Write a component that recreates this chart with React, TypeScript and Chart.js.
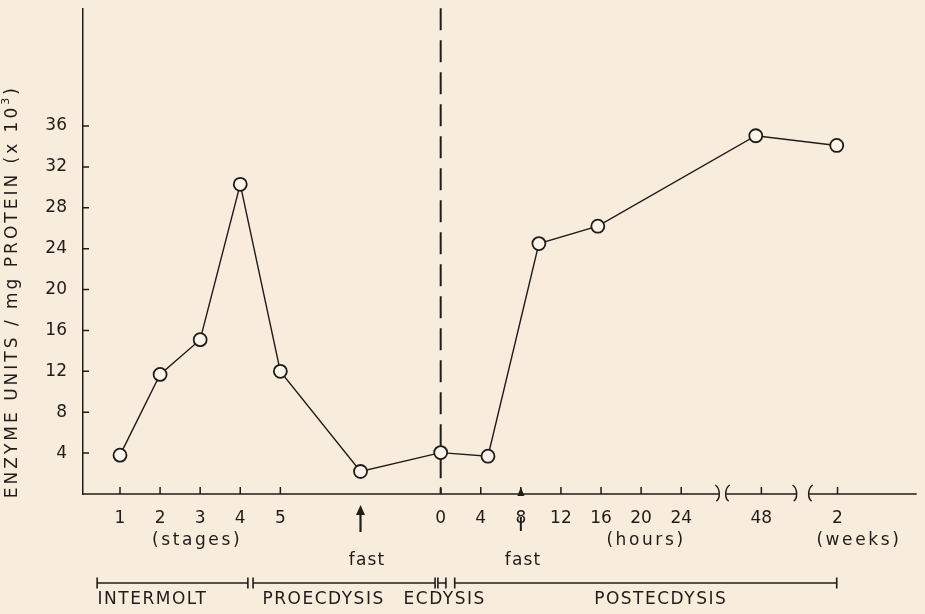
import React, { useEffect, useRef } from "react";
import { Chart, registerables } from "chart.js";

Chart.register(...registerables);

// Unified x position: stages 1–5 at 1..5, hours after ecdysis at 9 + h/4, 48 h and 2 weeks after axis breaks
const samplePositions = [1, 2, 3, 4, 5, 7, 9, 10.18, 11.45, 12.92, 16.86, 18.88];
const enzymeUnits = [3.8, 11.7, 15.1, 30.3, 12.0, 2.2, 4.05, 3.7, 24.5, 26.2, 35.05, 34.1];

const xTickValues = [1, 2, 3, 4, 5, 9, 10, 11, 12, 13, 14, 15, 17, 18.9];
const xTickLabels = ["1", "2", "3", "4", "5", "0", "4", "8", "12", "16", "20", "24", "48", "2"];
const yTickValues = [4, 8, 12, 16, 20, 24, 28, 32, 36];

const unitLabels = ["(stages)", "(hours)", "(weeks)"];
const unitLabelPositions = [2.89, 14.09, 19.4];
const fastLabels = ["fast", "fast"];
const fastLabelPositions = [7.15, 11.04];
const fastArrowPositions = [7, 11];

const phaseNames = ["INTERMOLT", "PROECDYSIS", "ECDYSIS", "POSTECDYSIS"];
const phaseStarts = [0.43, 4.32, 8.93, 9.35];
const phaseEnds = [4.19, 8.86, 9.13, 18.88];
const phaseLabelCenters = [1.79, 6.06, 9.08, 14.47];

const ecdysisLine = 9;
const breakStarts = [15.9, 17.83];
const breakEnds = [16.16, 18.23];

const yTitle = "ENZYME UNITS / mg PROTEIN (x 10";
const yTitleSup = "3";
const yTitleEnd = ")";

const INK = "#1f1c1a";
const BG = "#f8ecdc";
const FONT = "'DejaVu Sans', sans-serif";

function spacedText(ctx: CanvasRenderingContext2D, text: string, x: number, y: number, spacing: number) {
  (ctx as any).letterSpacing = spacing + "px";
  const w = ctx.measureText(text).width;
  ctx.textAlign = "left";
  ctx.fillText(text, x - (w - spacing) / 2, y);
  (ctx as any).letterSpacing = "0px";
}

const decorPlugin = {
  id: "decor",
  beforeDatasetsDraw(chart: any) {
    const { ctx, chartArea, scales } = chart;
    const x = scales.x;
    const y = scales.y;
    const ay = y.getPixelForValue(0);
    ctx.save();
    ctx.strokeStyle = INK;
    ctx.lineWidth = 2;
    ctx.setLineDash([22, 10]);
    const lx = x.getPixelForValue(ecdysisLine);
    ctx.beginPath();
    ctx.moveTo(lx, chartArea.top);
    ctx.lineTo(lx, ay);
    ctx.stroke();
    ctx.restore();
  },
  afterDraw(chart: any) {
    const { ctx, chartArea, scales } = chart;
    const x = scales.x;
    const y = scales.y;
    const ay = y.getPixelForValue(0);
    const left = chartArea.left;
    ctx.save();
    ctx.strokeStyle = INK;
    ctx.fillStyle = INK;
    ctx.lineWidth = 1.5;
    ctx.setLineDash([]);

    // x axis with breaks
    ctx.beginPath();
    let start = left;
    for (let i = 0; i < breakStarts.length; i++) {
      const xa = x.getPixelForValue(breakStarts[i]);
      const xb = x.getPixelForValue(breakEnds[i]);
      ctx.moveTo(start, ay);
      ctx.lineTo(xa + 1.5, ay);
      start = xb - 1.5;
    }
    ctx.moveTo(start, ay);
    ctx.lineTo(chartArea.right, ay);
    ctx.stroke();
    for (let i = 0; i < breakStarts.length; i++) {
      const xa = x.getPixelForValue(breakStarts[i]);
      const xb = x.getPixelForValue(breakEnds[i]);
      ctx.beginPath();
      ctx.moveTo(xa - 2, ay - 9);
      ctx.bezierCurveTo(xa + 1, ay - 7, xa + 2, ay - 3, xa + 2, ay);
      ctx.bezierCurveTo(xa + 2, ay + 3, xa + 1, ay + 6, xa - 1, ay + 7);
      ctx.stroke();
      ctx.beginPath();
      ctx.moveTo(xb + 2, ay - 9);
      ctx.bezierCurveTo(xb - 1, ay - 7, xb - 2, ay - 3, xb - 2, ay);
      ctx.bezierCurveTo(xb - 2, ay + 3, xb - 1, ay + 6, xb + 1, ay + 7);
      ctx.stroke();
    }

    // tick marks (inside)
    ctx.beginPath();
    for (const v of yTickValues) {
      const py = y.getPixelForValue(v);
      ctx.moveTo(left, py);
      ctx.lineTo(left + 6, py);
    }
    for (const v of xTickValues) {
      const px = x.getPixelForValue(v);
      ctx.moveTo(px, ay);
      ctx.lineTo(px, ay - 7);
    }
    ctx.stroke();

    // "fast" arrows
    {
      const px = x.getPixelForValue(fastArrowPositions[0]);
      ctx.lineWidth = 2.2;
      ctx.beginPath();
      ctx.moveTo(px, ay + 38);
      ctx.lineTo(px, ay + 18);
      ctx.stroke();
      ctx.beginPath();
      ctx.moveTo(px, ay + 11);
      ctx.lineTo(px - 4.5, ay + 21);
      ctx.lineTo(px + 4.5, ay + 21);
      ctx.closePath();
      ctx.fill();
    }
    {
      const px = x.getPixelForValue(fastArrowPositions[1]);
      ctx.beginPath();
      ctx.moveTo(px, ay - 7);
      ctx.lineTo(px - 3.5, ay + 2);
      ctx.lineTo(px + 3.5, ay + 2);
      ctx.closePath();
      ctx.fill();
      ctx.lineWidth = 2;
      ctx.beginPath();
      ctx.moveTo(px, ay + 23);
      ctx.lineTo(px, ay + 37);
      ctx.stroke();
    }

    // text labels
    ctx.font = `17px ${FONT}`;
    ctx.textBaseline = "middle";
    for (let i = 0; i < unitLabels.length; i++) {
      spacedText(ctx, unitLabels[i], x.getPixelForValue(unitLabelPositions[i]), ay + 47, 2.6);
    }
    for (let i = 0; i < fastLabels.length; i++) {
      spacedText(ctx, fastLabels[i], x.getPixelForValue(fastLabelPositions[i]), ay + 67, 1.2);
    }

    // phase brackets
    ctx.lineWidth = 1.6;
    const by = ay + 89;
    ctx.beginPath();
    for (let i = 0; i < phaseNames.length; i++) {
      const xs = x.getPixelForValue(phaseStarts[i]);
      const xe = x.getPixelForValue(phaseEnds[i]);
      ctx.moveTo(xs, by);
      ctx.lineTo(xe, by);
      ctx.moveTo(xs, by - 5.5);
      ctx.lineTo(xs, by + 5.5);
      ctx.moveTo(xe, by - 5.5);
      ctx.lineTo(xe, by + 5.5);
    }
    ctx.stroke();
    for (let i = 0; i < phaseNames.length; i++) {
      spacedText(ctx, phaseNames[i], x.getPixelForValue(phaseLabelCenters[i]), ay + 106, 1.5);
    }

    // y axis title (rotated)
    ctx.translate(13, y.getPixelForValue(19.8));
    ctx.rotate(-Math.PI / 2);
    const sp = 3;
    (ctx as any).letterSpacing = sp + "px";
    ctx.font = `17px ${FONT}`;
    const w1 = ctx.measureText(yTitle).width;
    ctx.font = `11px ${FONT}`;
    const w2 = ctx.measureText(yTitleSup).width;
    ctx.font = `17px ${FONT}`;
    const w3 = ctx.measureText(yTitleEnd).width;
    const total = w1 + w2 + w3;
    let tx = -total / 2;
    ctx.textAlign = "left";
    ctx.fillText(yTitle, tx, 0);
    tx += w1;
    ctx.font = `11px ${FONT}`;
    ctx.fillText(yTitleSup, tx, -7);
    tx += w2;
    ctx.font = `17px ${FONT}`;
    ctx.fillText(yTitleEnd, tx, 0);
    (ctx as any).letterSpacing = "0px";
    ctx.restore();
  },
};

export default function App() {
  const canvasRef = useRef<HTMLCanvasElement | null>(null);

  useEffect(() => {
    if (!canvasRef.current) return;
    const chart = new Chart(canvasRef.current, {
      type: "line",
      data: {
        datasets: [
          {
            data: samplePositions.map((p, i) => ({ x: p, y: enzymeUnits[i] })),
            borderColor: INK,
            borderWidth: 1.4,
            pointRadius: 6.5,
            pointBorderWidth: 1.8,
            pointBorderColor: INK,
            pointBackgroundColor: "#fbf4ea",
            fill: false,
            tension: 0,
          },
        ],
      },
      options: {
        animation: false,
        responsive: false,
        devicePixelRatio: 1,
        layout: { padding: { top: 5, right: 8, left: 0, bottom: 0 } },
        plugins: { legend: { display: false }, tooltip: { enabled: false } },
        scales: {
          x: {
            type: "linear",
            min: 0.077,
            max: 20.875,
            grid: { display: false },
            border: { display: false },
            afterBuildTicks: (s: any) => {
              s.ticks = xTickValues.map((v) => ({ value: v }));
            },
            afterFit: (s: any) => {
              s.height = 120;
              s.paddingLeft = 0;
              s.paddingRight = 0;
            },
            ticks: {
              autoSkip: false,
              maxRotation: 0,
              minRotation: 0,
              padding: 6,
              color: INK,
              font: { family: FONT, size: 17 },
              callback: (_v: any, i: number) => xTickLabels[i],
            },
          },
          y: {
            type: "linear",
            min: 0,
            max: 47.52,
            grid: { display: false },
            border: { display: true, color: INK, width: 1.5 },
            afterBuildTicks: (s: any) => {
              s.ticks = yTickValues.map((v) => ({ value: v }));
            },
            afterFit: (s: any) => {
              s.width = 83;
              s.paddingTop = 0;
              s.paddingBottom = 0;
            },
            ticks: {
              padding: 8,
              color: INK,
              font: { family: FONT, size: 17 },
              callback: (v: any) => String(v),
            },
          },
        },
      },
      plugins: [decorPlugin],
    });
    return () => chart.destroy();
  }, []);

  return (
    <div style={{ position: "fixed", left: 0, top: 0, width: 925, height: 614, background: BG }}>
      <canvas ref={canvasRef} width={925} height={614} style={{ display: "block", width: 925, height: 614 }} />
    </div>
  );
}
